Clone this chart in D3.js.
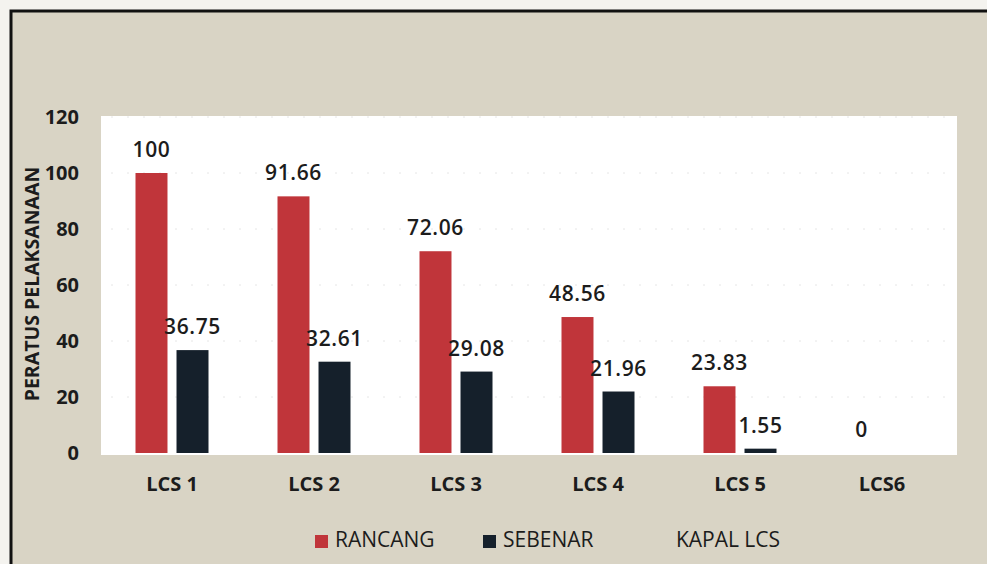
<!DOCTYPE html>
<html>
<head>
<meta charset="utf-8">
<script src="https://cdn.jsdelivr.net/npm/d3@7"></script>
<style>
  body { margin: 0; background: #f4f3ef; }
  svg { display: block; }
  text { font-family: "Open Sans", sans-serif; fill: #1c1c1c; }
</style>
</head>
<body>
<svg id="chart" width="987" height="564"></svg>
<script>
// Data
var categories = ["LCS 1", "LCS 2", "LCS 3", "LCS 4", "LCS 5", "LCS6"];
var series = ["RANCANG", "SEBENAR"];
var rancang = [100, 91.66, 72.06, 48.56, 23.83, 0];
var sebenar = [36.75, 32.61, 29.08, 21.96, 1.55, null];
var yTicks = [0, 20, 40, 60, 80, 100, 120];

var colors = { "RANCANG": "#c0353a", "SEBENAR": "#15202b" };

var svg = d3.select("#chart"),
    width = +svg.attr("width"),
    height = +svg.attr("height");

// Background panel, border on top and left only
svg.append("rect")
    .attr("x", 10).attr("y", 10)
    .attr("width", width - 10).attr("height", height - 10)
    .attr("fill", "#d9d4c5");
svg.append("path")
    .attr("d", "M11," + height + "V11H" + width)
    .attr("fill", "none")
    .attr("stroke", "#111")
    .attr("stroke-width", 3);

// Plot area
var plot = { left: 101, right: 957, top: 116, bottom: 455 };
svg.append("rect")
    .attr("x", plot.left).attr("y", plot.top)
    .attr("width", plot.right - plot.left).attr("height", plot.bottom - plot.top)
    .attr("fill", "#ffffff");

// Scales
var x0 = d3.scaleBand().domain(categories).range([101, 953]).padding(0);
var x1 = d3.scaleBand().domain(series).range([0, 73]).paddingInner(0.22);
var y = d3.scaleLinear().domain([0, 120]).range([453, 117]);

// Faint gridlines
svg.append("g")
    .selectAll("line")
    .data(yTicks.slice(1))
    .join("line")
    .attr("x1", plot.left + 10).attr("x2", plot.right - 10)
    .attr("y1", function(d) { return y(d); })
    .attr("y2", function(d) { return y(d); })
    .attr("stroke", "#e6e6e6")
    .attr("stroke-dasharray", "2,14");

// Y axis labels
var yAxis = svg.append("g")
    .attr("transform", "translate(79,0)")
    .call(d3.axisLeft(y).tickValues(yTicks).tickSize(0).tickPadding(0));
yAxis.select(".domain").remove();
yAxis.selectAll("text")
    .attr("font-size", 20)
    .attr("font-weight", 700)
    .attr("font-family", "Open Sans, sans-serif")
    .attr("fill", "#1c1c1c");

// Y title
svg.append("text")
    .attr("transform", "translate(39,284) rotate(-90)")
    .attr("text-anchor", "middle")
    .attr("font-size", 19.5)
    .attr("font-weight", 700)
    .text("PERATUS PELAKSANAAN");

// X axis labels
var xAxis = svg.append("g")
    .attr("transform", "translate(0,477)")
    .call(d3.axisBottom(x0).tickSize(0).tickPadding(0));
xAxis.select(".domain").remove();
xAxis.selectAll("text")
    .attr("font-size", 20)
    .attr("font-weight", 700)
    .attr("font-family", "Open Sans, sans-serif")
    .attr("fill", "#1c1c1c");

// Bars
var rows = categories.map(function(c, i) {
  return { cat: c, values: [
    { key: "RANCANG", value: rancang[i] },
    { key: "SEBENAR", value: sebenar[i] }
  ]};
});

var groups = svg.append("g")
    .selectAll("g")
    .data(rows)
    .join("g")
    .attr("transform", function(d) {
      return "translate(" + (x0(d.cat) + (x0.bandwidth() - 73) / 2) + ",0)";
    });

groups.selectAll("rect")
    .data(function(d) { return d.values.filter(function(v) { return v.value != null; }); })
    .join("rect")
    .attr("x", function(d) { return x1(d.key); })
    .attr("width", x1.bandwidth())
    .attr("y", function(d) { return y(d.value); })
    .attr("height", function(d) { return y(0) - y(d.value); })
    .attr("fill", function(d) { return colors[d.key]; });

groups.selectAll("text")
    .data(function(d) { return d.values.filter(function(v) { return v.value != null; }); })
    .join("text")
    .attr("x", function(d) { return x1(d.key) + x1.bandwidth() / 2; })
    .attr("y", function(d) { return y(d.value) - 16; })
    .attr("text-anchor", "middle")
    .attr("font-size", 21)
    .attr("font-weight", 600)
    .attr("letter-spacing", 0.6)
    .text(function(d) { return d.value; });

// Legend
var legend = svg.append("g").attr("transform", "translate(315,535)");
var legendX = [0, 168];
series.forEach(function(s, i) {
  var g = legend.append("g").attr("transform", "translate(" + legendX[i] + ",0)");
  g.append("rect")
    .attr("width", 13).attr("height", 13)
    .attr("fill", colors[s]);
  g.append("text")
    .attr("x", 20).attr("y", 12)
    .attr("font-size", 21)
    .attr("fill", "#2a2a2a")
    .text(s);
});

// X title
svg.append("text")
    .attr("x", 728).attr("y", 547)
    .attr("text-anchor", "middle")
    .attr("font-size", 21)
    .attr("fill", "#2a2a2a")
    .text("KAPAL LCS");
</script>
</body>
</html>
